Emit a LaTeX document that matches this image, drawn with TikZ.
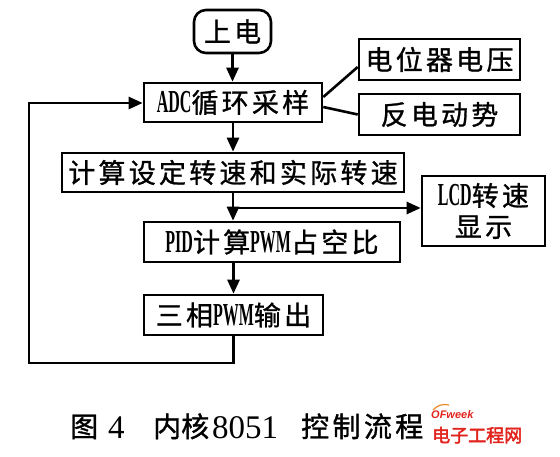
\documentclass[tikz,border=0pt]{standalone}
\usepackage{fontspec}
\usetikzlibrary{arrows.meta,calc}
\newfontfamily\cjfont[FakeBold=1,LetterSpace=12]{Noto Sans CJK SC}
\newfontfamily\cjcap[FakeBold=1.2]{Noto Sans CJK SC}
\newfontfamily\cjmark[FakeBold=2.5]{Noto Sans CJK SC}
\newfontfamily\lafont[FakeStretch=0.5]{Liberation Serif}
\newfontfamily\lacap{Liberation Serif}
\newfontfamily\markfont{Liberation Sans}
\newcommand\ZH[1]{{\cjfont #1}}
\newcommand\EN[1]{{\lafont\bfseries\fontsize{32bp}{31bp}\selectfont #1}}
\definecolor{markred}{RGB}{226,36,30}
\definecolor{markorange}{RGB}{240,140,40}
\tikzset{
  box/.style={draw, line width=2.6bp, inner sep=0pt, align=center,
    font=\fontsize{27bp}{31bp}\selectfont},
  startbox/.style={box, rounded corners=12bp},
  arr/.style={line width=2.6bp, -{Triangle[length=14bp,width=12bp]}},
  ln/.style={line width=2.6bp},
  captext/.style={anchor=base west, inner sep=0pt},
}
\begin{document}
\begin{tikzpicture}[x=1bp,y=-1bp]
\useasboundingbox[fill=white] (0,0) rectangle (560,457);
% boxes
\node[startbox, minimum width=77bp, minimum height=43bp] (start) at (232.5,31.5) {\ZH{上电}};
\node[box, minimum width=178bp, minimum height=39bp] (adc) at (233,102.5) {\EN{ADC}\ZH{循环采样}};
\node[box, minimum width=161bp, minimum height=41bp] (pot) at (439.5,59.5) {\ZH{电位器电压}};
\node[box, minimum width=161bp, minimum height=41bp] (bemf) at (439.5,114.5) {\ZH{反电动势}};
\node[box, minimum width=342bp, minimum height=39bp] (calc) at (233,172.5) {\ZH{计算设定转速和实际转速}};
\node[box, minimum width=123bp, minimum height=70bp] (lcd) at (483.5,211) {\EN{LCD}\ZH{转速}\\\ZH{显示}};
\node[box, minimum width=256bp, minimum height=40bp] (pid) at (272,242) {\EN{PID}\ZH{计算}\EN{PWM}\ZH{占空比}};
\node[box, minimum width=179bp, minimum height=40bp] (out) at (233.5,315) {\ZH{三相}\EN{PWM}\ZH{输出}};
% helper points
\coordinate (br) at (233,208);
\coordinate (lpbl) at (29,363);
\coordinate (lptl) at (29,103);
% connectors
\draw[arr] (start.south) -- (start.south |- adc.north);
\draw[arr] (adc.south) -- (adc.south |- calc.north);
\draw[arr] (calc.south) -- (calc.south |- pid.north);
\draw[arr] (br) -- (br -| lcd.west);
\draw[arr] (out.north |- pid.south) -- (out.north);
\draw[arr] (out.south) -- (out.south |- lpbl) -- (lpbl) -- (lptl) -- (lptl -| adc.west);
\draw[ln] ($(adc.east)+(0,-5.5)$) -- ($(pot.west)+(0,7.5)$);
\draw[ln] ($(adc.east)+(0,4.5)$) -- (bemf.west);
% caption
\node[captext, font=\cjcap\fontsize{28bp}{30bp}\selectfont] (cap1) at (70,437) {图};
\node[captext, font=\lacap\fontsize{33bp}{35bp}\selectfont] (cap2) at (108,438) {4};
\node[captext, font=\cjcap\fontsize{28bp}{30bp}\selectfont] (cap3) at (153,437) {内核};
\node[captext, font=\lacap\fontsize{33bp}{35bp}\selectfont] (cap4) at (212,438) {8051};
\node[captext, font=\cjcap\fontsize{28bp}{30bp}\selectfont\addfontfeature{LetterSpace=12}] (cap5) at (301,437) {控制流程};
% watermark
\node[captext, text=markred, font=\markfont\bfseries\itshape\fontsize{11bp}{12bp}\selectfont] (mk1) at (431,418) {OFweek};
\draw[markorange, line width=1.2bp] (433,410) to[bend left=30] (449,405);
\node[captext, text=markred, font=\cjmark\fontsize{18bp}{20bp}\selectfont] (mk2) at (432,442) {电子工程网};
\end{tikzpicture}
\end{document}
